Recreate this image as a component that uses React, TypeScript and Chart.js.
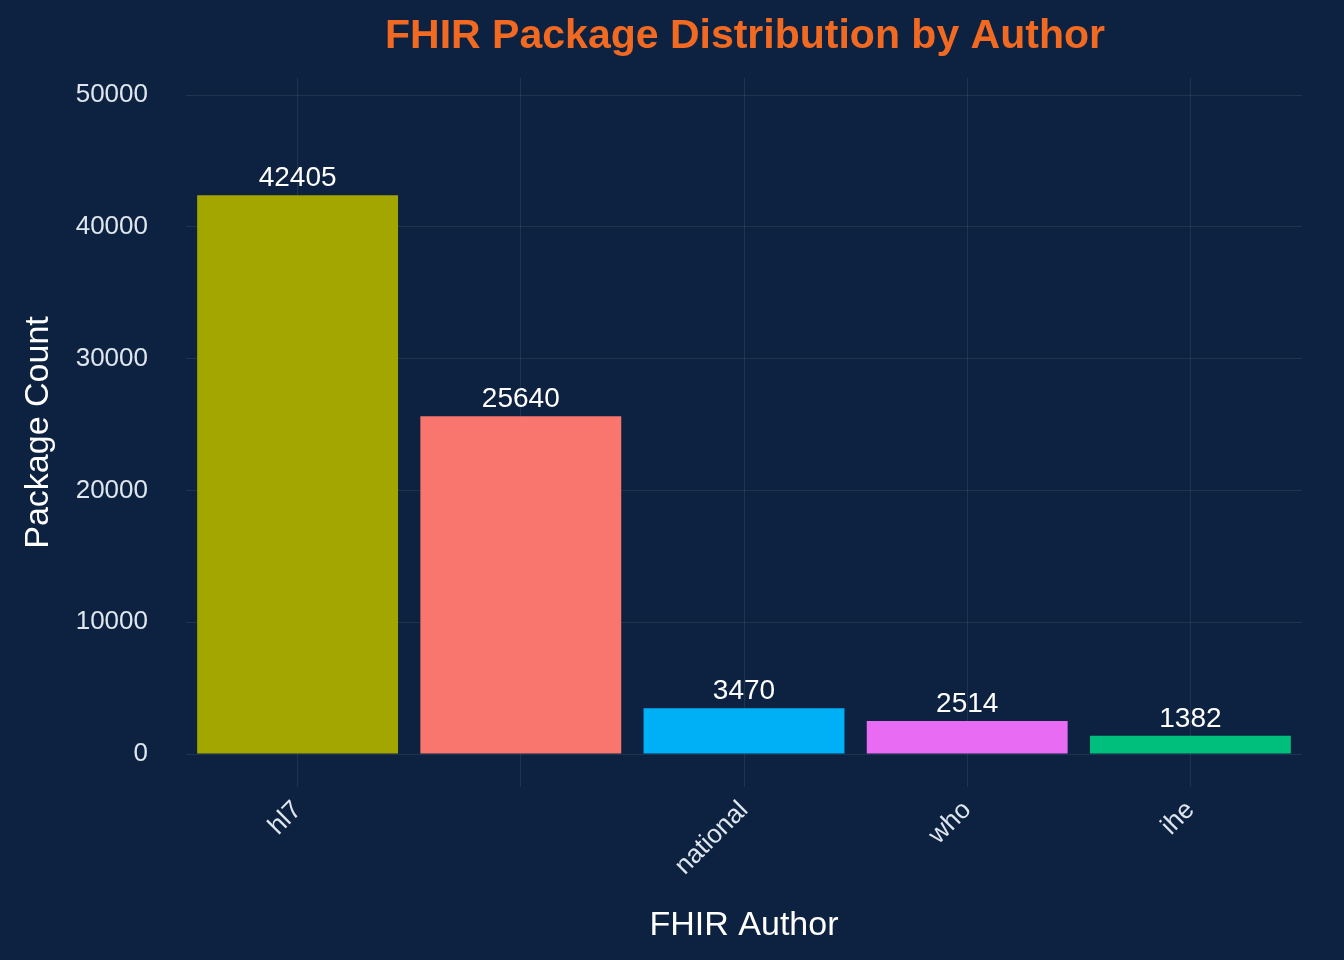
import React, { useEffect, useRef } from 'react';
import { Chart, registerables } from 'chart.js';

Chart.register(...registerables);

const authors = ['hl7', '', 'national', 'who', 'ihe'];
const counts = [42405, 25640, 3470, 2514, 1382];
const colors = ['#a3a500', '#f8766d', '#00b0f6', '#e76bf3', '#00bf7d'];
const yTicks = [0, 10000, 20000, 30000, 40000, 50000];

const BG = '#0d2240';
const GRID = 'rgba(255,255,255,0.08)';
const TEXT = '#dfe6ee';
const FONT = 'Arial, "Liberation Sans", sans-serif';

const extras = {
  id: 'extras',
  beforeDraw(chart: Chart) {
    const { ctx } = chart;
    ctx.save();
    ctx.fillStyle = BG;
    ctx.fillRect(0, 0, chart.width, chart.height);
    ctx.restore();
  },
  afterDatasetsDraw(chart: Chart) {
    const { ctx } = chart;
    const meta = chart.getDatasetMeta(0);
    ctx.save();
    ctx.fillStyle = '#ffffff';
    ctx.font = `28px ${FONT}`;
    ctx.textAlign = 'center';
    ctx.textBaseline = 'bottom';
    meta.data.forEach((bar: any, i: number) => {
      ctx.fillText(String(counts[i]), bar.x, bar.y - 3);
    });
    ctx.fillStyle = '#f26a21';
    ctx.font = `bold 41px ${FONT}`;
    ctx.textBaseline = 'middle';
    ctx.fillText('FHIR Package Distribution by Author', 745, 37);
    ctx.restore();
  },
};

export default function App() {
  const canvasRef = useRef<HTMLCanvasElement | null>(null);

  useEffect(() => {
    document.body.style.margin = '0';
    document.body.style.background = BG;
    if (!canvasRef.current) return;
    const chart = new Chart(canvasRef.current, {
      type: 'bar',
      data: {
        labels: authors,
        datasets: [
          {
            data: counts,
            backgroundColor: colors,
            barPercentage: 0.9,
            categoryPercentage: 1,
            borderWidth: 0,
          },
        ],
      },
      options: {
        responsive: false,
        animation: false,
        layout: { padding: { top: 78, right: 42, left: 0, bottom: 0 } },
        plugins: { legend: { display: false }, tooltip: { enabled: false } },
        scales: {
          x: {
            afterFit: (s: any) => {
              s.height = 173;
            },
            grid: { color: GRID, drawTicks: false, offset: false },
            border: { display: false },
            ticks: {
              color: TEXT,
              font: { size: 26, family: FONT },
              maxRotation: 45,
              minRotation: 45,
              padding: 8,
            },
            title: {
              display: true,
              text: 'FHIR Author',
              color: '#ffffff',
              font: { size: 34, family: FONT },
              padding: { top: 0, bottom: 14 },
            },
          },
          y: {
            min: -2500,
            max: 51300,
            afterBuildTicks: (s: any) => {
              s.ticks = yTicks.map((v) => ({ value: v }));
            },
            afterFit: (s: any) => {
              s.width = 186;
            },
            grid: { color: GRID, drawTicks: false },
            border: { display: false },
            ticks: {
              color: TEXT,
              font: { size: 26, family: FONT },
              padding: 38,
              callback: (v: any) => String(v),
            },
            title: {
              display: true,
              text: 'Package Count',
              color: '#ffffff',
              font: { size: 34, family: FONT },
              padding: { top: 18, bottom: 0 },
            },
          },
        },
      },
      plugins: [extras],
    });
    return () => chart.destroy();
  }, []);

  return <canvas ref={canvasRef} width={1344} height={960} style={{ display: 'block' }} />;
}
